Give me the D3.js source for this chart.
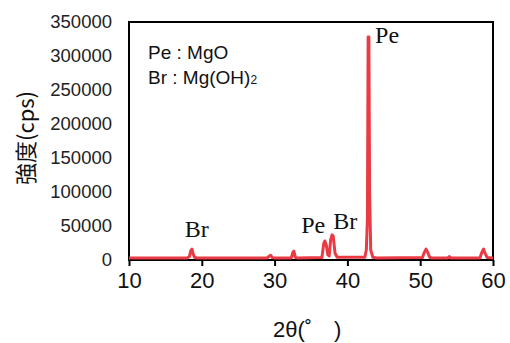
<!DOCTYPE html>
<html>
<head>
<meta charset="utf-8">
<script src="https://cdn.jsdelivr.net/npm/d3@7"></script>
<style>
  body { margin: 0; background: #fff; }
  svg { display: block; }
</style>
</head>
<body>
<div id="chart"></div>
<script>
// XRD pattern: [2theta, cps]
const pattern = [
  [10.0, 3000], [12.0, 3000], [15.0, 3000],
  [18.0, 3000], [18.3, 5000], [18.5, 14000], [18.65, 16000], [18.8, 9000], [19.0, 4000], [19.3, 3000],
  [25.0, 3000],
  [29.0, 3000], [29.3, 6000], [29.45, 7000], [29.7, 3500], [30.0, 3000],
  [32.3, 3000], [32.5, 11000], [32.65, 13000], [32.85, 4000], [33.1, 3000],
  [36.5, 3500], [36.75, 24000], [36.9, 28000], [37.1, 22000], [37.3, 8000], [37.5, 6000],
  [37.7, 30000], [37.9, 37000], [38.05, 35000], [38.3, 10000], [38.6, 4000],
  [42.4, 4000], [42.6, 15000], [42.75, 60000], [42.85, 328000], [42.95, 328000],
  [43.05, 100000], [43.2, 15000], [43.5, 4000], [44.0, 3000],
  [50.3, 3500], [50.6, 12000], [50.8, 16000], [51.0, 12000], [51.3, 4000], [51.6, 3000],
  [53.8, 3000], [54.0, 5000], [54.2, 3000],
  [58.2, 3000], [58.5, 12000], [58.7, 16000], [58.9, 10000], [59.2, 3500], [60.0, 3000]
];

const xTicks = [10, 20, 30, 40, 50, 60];
const yTicks = [0, 50000, 100000, 150000, 200000, 250000, 300000, 350000];

// peak labels: [text, 2theta of label, cps of label baseline, anchor]
const peakLabels = [
  ["Br", 19.3, 33800, "middle"],
  ["Pe", 35.3, 39700, "middle"],
  ["Br", 39.7, 45600, "middle"],
  ["Pe", 43.8, 319000, "start"]
];

const legendLines = ["Pe : MgO", "Br : Mg(OH)"];

const W = 510, H = 343;
const margin = { left: 129, right: 17, top: 22, bottom: 83 };

const svg = d3.select("#chart")
  .append("svg")
    .attr("width", W)
    .attr("height", H)
    .attr("viewBox", [0, 0, W, H]);

const x = d3.scaleLinear().domain([10, 60]).range([margin.left, W - margin.right]);
const y = d3.scaleLinear().domain([0, 350000]).range([H - margin.bottom, margin.top]);

// frame
svg.append("rect")
  .attr("x", x(10))
  .attr("y", y(350000))
  .attr("width", x(60) - x(10))
  .attr("height", y(0) - y(350000))
  .attr("fill", "none")
  .attr("stroke", "#000")
  .attr("stroke-width", 2);

// x axis
const gx = svg.append("g")
  .attr("transform", `translate(0,${y(0)})`)
  .call(d3.axisBottom(x).tickValues(xTicks).tickSize(6).tickPadding(6).tickFormat(d3.format("d")));
gx.select(".domain").remove();
gx.selectAll("line").attr("stroke", "#000").attr("stroke-width", 2);
gx.selectAll("text")
  .style("font-family", "Liberation Sans, Arial, sans-serif")
  .style("font-size", "22px")
  .attr("fill", "#111");

// y axis
const gy = svg.append("g")
  .attr("transform", `translate(${x(10)},0)`)
  .call(d3.axisLeft(y).tickValues(yTicks).tickSize(0).tickPadding(17).tickFormat(d3.format("d")));
gy.select(".domain").remove();
gy.selectAll("text")
  .style("font-family", "Liberation Sans, Arial, sans-serif")
  .style("font-size", "18.5px")
  .attr("fill", "#222");

// pattern line
svg.append("defs").append("clipPath").attr("id", "clip")
  .append("rect")
  .attr("x", x(10)).attr("y", y(350000) - 5)
  .attr("width", x(60) - x(10)).attr("height", y(0) - y(350000) + 5);

svg.append("path")
  .datum(pattern)
  .attr("clip-path", "url(#clip)")
  .attr("fill", "none")
  .attr("stroke", "#ea3a43")
  .attr("stroke-width", 3)
  .attr("stroke-linejoin", "round")
  .attr("d", d3.line().x(d => x(d[0])).y(d => y(d[1])));

// peak labels
svg.selectAll(".peak")
  .data(peakLabels)
  .join("text")
  .attr("class", "peak")
  .attr("x", d => x(d[1]))
  .attr("y", d => y(d[2]))
  .attr("text-anchor", d => d[3])
  .style("font-family", "Liberation Serif, Times New Roman, serif")
  .style("font-size", "24px")
  .attr("fill", "#111")
  .text(d => d[0]);

// legend
const leg = svg.append("g")
  .style("font-family", "Liberation Sans, Arial, sans-serif")
  .style("font-size", "19px")
  .attr("fill", "#111");
leg.append("text").attr("x", 148).attr("y", 59).text(legendLines[0]);
const l2 = leg.append("text").attr("x", 148).attr("y", 84).text(legendLines[1]);
l2.append("tspan").attr("font-size", "12px").text("2");

// axis titles
svg.append("text")
  .attr("x", 273)
  .attr("y", 337)
  .style("font-family", "Liberation Sans, Arial, sans-serif")
  .style("font-size", "22px")
  .style("white-space", "pre")
  .attr("fill", "#111")
  .text("2θ(˚　)");

svg.append("text")
  .attr("transform", "translate(34,138) rotate(-90)")
  .attr("text-anchor", "middle")
  .style("font-family", "Noto Sans CJK JP, Liberation Sans, sans-serif")
  .style("font-size", "22px")
  .attr("fill", "#111")
  .text("強度(cps)");
</script>
</body>
</html>
